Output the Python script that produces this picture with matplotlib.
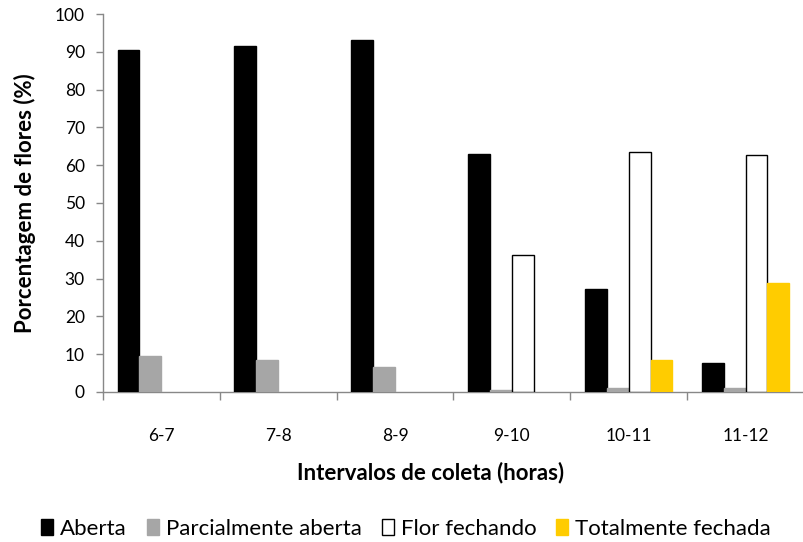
import numpy as np
import matplotlib.pyplot as plt

plt.rcParams['font.family'] = ['Lato', 'DejaVu Sans']

# percentage of flowers in each state per collection interval
intervalos = ['6-7', '7-8', '8-9', '9-10', '10-11', '11-12']
aberta = [90.4, 91.6, 93.1, 63.0, 27.1, 7.6]
parcial = [9.6, 8.4, 6.7, 0.6, 1.0, 1.0]
fechando = [0, 0, 0, 36.3, 63.4, 62.6]
fechada = [0, 0, 0, 0, 8.4, 28.8]

series = [
    ('Aberta', aberta, '#000000', '#000000'),
    ('Parcialmente aberta', parcial, '#a6a6a6', '#a6a6a6'),
    ('Flor fechando', fechando, '#ffffff', '#000000'),
    ('Totalmente fechada', fechada, '#ffcc00', '#ffcc00'),
]

fig = plt.figure(figsize=(8.04, 5.42), dpi=100)
ax = fig.add_axes([0.128, 0.277, 0.872, 0.697])

x = np.arange(len(intervalos))
w = 0.187
for i, (nome, vals, fc, ec) in enumerate(series):
    vals = np.array(vals)
    mask = vals > 0
    ax.bar(x[mask] + (i - 1.5) * w, vals[mask], width=w, color=fc,
           edgecolor=ec, linewidth=1.0, label=nome, zorder=3)

ax.set_xlim(-0.5, 5.45)
ax.set_ylim(0, 100)
ax.set_yticks(range(0, 101, 10))
ax.set_xticks(x)
ax.set_xticklabels(intervalos)
ax.set_xticks(np.arange(-0.5, 6, 1), minor=True)
ax.tick_params(axis='x', which='major', length=0, pad=26, labelsize=12.5)
ax.tick_params(axis='x', which='minor', length=6, color='#888888', width=1)
ax.tick_params(axis='y', length=5, color='#888888', width=1, labelsize=12.5, pad=8)

for s in ['top', 'right']:
    ax.spines[s].set_visible(False)
for s in ['left', 'bottom']:
    ax.spines[s].set_color('#888888')
    ax.spines[s].set_linewidth(1)

fig.text(0.031, 0.6255, 'Porcentagem de flores (%)', fontsize=16, fontweight='bold',
         rotation=90, ha='center', va='center')
fig.text(0.535, 0.129, 'Intervalos de coleta (horas)', fontsize=16,
         fontweight='bold', ha='center', va='center')

handles, labels = ax.get_legend_handles_labels()
fig.legend(handles, labels, loc='center', bbox_to_anchor=(0.505, 0.024),
           ncol=4, frameon=False, fontsize=16, handlelength=0.55,
           handleheight=0.75, handletextpad=0.3, columnspacing=0.9)

fig.savefig('out.png', dpi=100)
